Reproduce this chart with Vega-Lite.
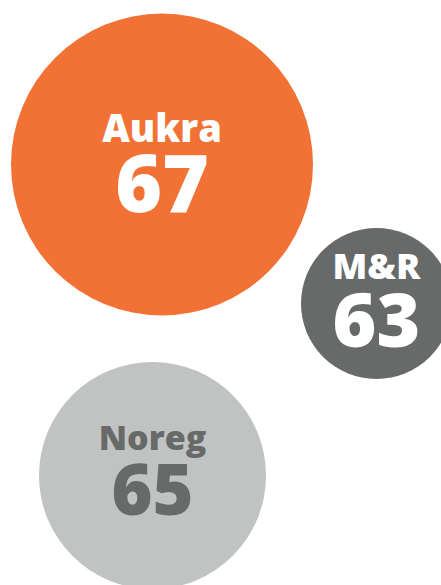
{
  "$schema": "https://vega.github.io/schema/vega-lite/v6.json",
  "width": 441,
  "height": 585,
  "padding": 0,
  "autosize": {"type": "none"},
  "background": "#ffffff",
  "config": {"view": {"stroke": null}},
  "data": {
    "values": [
      {"name": "Aukra", "value": 67, "x": 162, "y": 164.5, "r": 151},
      {"name": "M&R", "value": 63, "x": 376.5, "y": 303.5, "r": 75.5},
      {"name": "Noreg", "value": 65, "x": 152.5, "y": 475.5, "r": 113.5}
    ]
  },
  "encoding": {
    "x": {"field": "x", "type": "quantitative", "scale": {"domain": [0, 441], "nice": false, "zero": false}, "axis": null},
    "y": {"field": "y", "type": "quantitative", "scale": {"domain": [0, 585], "nice": false, "zero": false, "reverse": true}, "axis": null}
  },
  "resolve": {"scale": {"color": "independent", "size": "independent"}},
  "layer": [
    {
      "mark": {"type": "point", "shape": "circle", "filled": true, "opacity": 1, "strokeWidth": 0},
      "encoding": {
        "size": {"field": "r", "type": "quantitative", "scale": {"type": "pow", "exponent": 2, "domain": [0, 151], "range": [0, 91204]}, "legend": null},
        "color": {"field": "name", "type": "nominal", "scale": {"domain": ["Aukra", "M&R", "Noreg"], "range": ["#F27236", "#676A69", "#C1C3C2"]}, "legend": null}
      }
    },
    {
      "mark": {"type": "text", "font": "Open Sans", "fontWeight": 800, "baseline": "top", "align": "center", "dy": -52.6},
      "encoding": {
        "text": {"field": "name"},
        "size": {"field": "name", "type": "nominal", "scale": {"domain": ["Aukra", "M&R", "Noreg"], "range": [38, 34, 36]}, "legend": null},
        "color": {"field": "name", "type": "nominal", "scale": {"domain": ["Aukra", "M&R", "Noreg"], "range": ["#ffffff", "#ffffff", "#676A69"]}, "legend": null}
      }
    },
    {
      "mark": {"type": "text", "font": "Open Sans", "fontWeight": 800, "baseline": "top", "align": "center", "dy": -15.7},
      "encoding": {
        "text": {"field": "value", "type": "quantitative"},
        "size": {"field": "name", "type": "nominal", "scale": {"domain": ["Aukra", "M&R", "Noreg"], "range": [80, 70, 80]}, "legend": null},
        "color": {"field": "name", "type": "nominal", "scale": {"domain": ["Aukra", "M&R", "Noreg"], "range": ["#ffffff", "#ffffff", "#676A69"]}, "legend": null}
      }
    }
  ]
}
